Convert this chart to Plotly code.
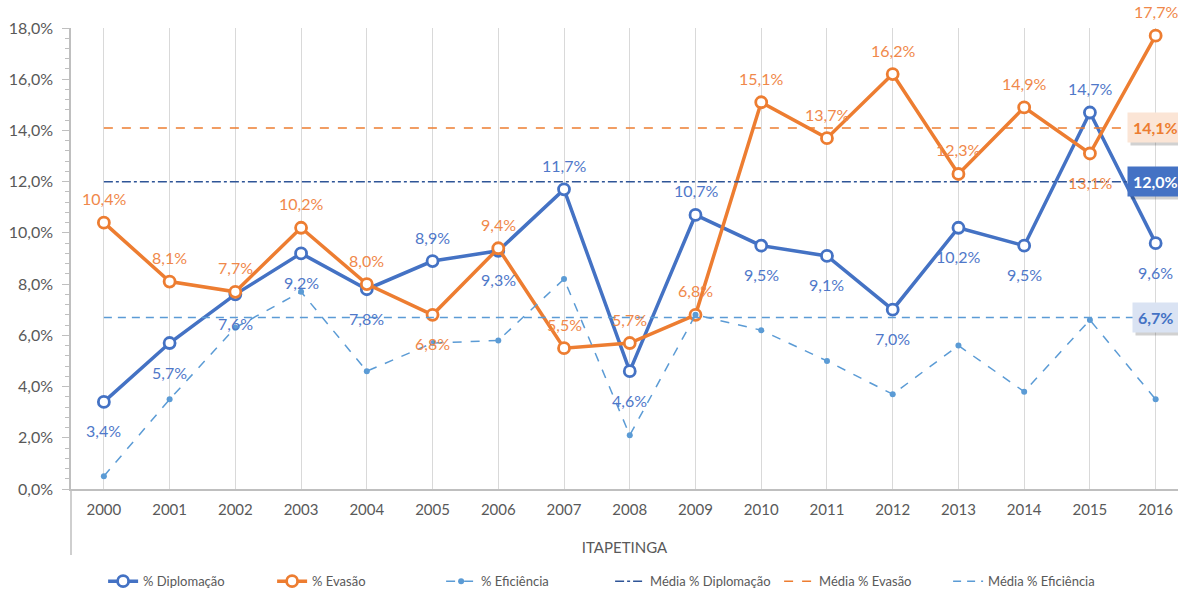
import plotly.graph_objects as go

anos = [str(a) for a in range(2000, 2017)]
diplomacao = [3.4, 5.7, 7.6, 9.2, 7.8, 8.9, 9.3, 11.7, 4.6, 10.7, 9.5, 9.1, 7.0, 10.2, 9.5, 14.7, 9.6]
evasao = [10.4, 8.1, 7.7, 10.2, 8.0, 6.8, 9.4, 5.5, 5.7, 6.8, 15.1, 13.7, 16.2, 12.3, 14.9, 13.1, 17.7]
eficiencia = [0.5, 3.5, 6.3, 7.7, 4.6, 5.7, 5.8, 8.2, 2.1, 6.8, 6.2, 5.0, 3.7, 5.6, 3.8, 6.6, 3.5]
media_diplomacao = 12.0
media_evasao = 14.1
media_eficiencia = 6.7
y_ticks = [0, 2, 4, 6, 8, 10, 12, 14, 16, 18]

# label placement (style): +1 above, -1 below
pos_dipl = [-1, -1, -1, -1, -1, 1, -1, 1, -1, 1, -1, -1, -1, -1, -1, 1, -1]
pos_evas = [1, 1, 1, 1, 1, -1, 1, 1, 1, 1, 1, 1, 1, 1, 1, -1, 1]

C_DIP = "#4472C4"
C_EVA = "#ED7D31"
C_EFI = "#5B9BD5"
C_MDIP = "#2F5597"
FONT = "Lato"
GRAY = "#595959"

def fmt(v):
    return f"{v:.1f}%".replace(".", ",")

fig = go.Figure()

fig.add_trace(go.Scatter(x=anos, y=diplomacao, name="% Diplomação", mode="lines+markers",
                         line=dict(color=C_DIP, width=3.5),
                         marker=dict(symbol="circle", size=11, color="white", line=dict(color=C_DIP, width=2.8))))
fig.add_trace(go.Scatter(x=anos, y=evasao, name="% Evasão", mode="lines+markers",
                         line=dict(color=C_EVA, width=3.5),
                         marker=dict(symbol="circle", size=11, color="white", line=dict(color=C_EVA, width=2.8))))
fig.add_trace(go.Scatter(x=anos, y=eficiencia, name="% Eficiência", mode="lines+markers",
                         line=dict(color=C_EFI, width=1.5, dash="dash"),
                         marker=dict(symbol="circle", size=6, color=C_EFI)))
fig.add_trace(go.Scatter(x=anos, y=[media_diplomacao] * len(anos), name="Média % Diplomação", mode="lines",
                         line=dict(color=C_MDIP, width=1.5, dash="dashdot")))
fig.add_trace(go.Scatter(x=anos, y=[media_evasao] * len(anos), name="Média % Evasão", mode="lines",
                         line=dict(color=C_EVA, width=1.5, dash="dash")))
fig.add_trace(go.Scatter(x=anos, y=[media_eficiencia] * len(anos), name="Média % Eficiência", mode="lines",
                         line=dict(color=C_EFI, width=1.5, dash="8px,6px")))

ann = []
for i, v in enumerate(diplomacao):
    ann.append(dict(x=i, y=v, text=fmt(v), showarrow=False, yshift=24 if pos_dipl[i] > 0 else -29,
                    font=dict(family=FONT, size=16, color="#4F78C9")))
for i, v in enumerate(evasao):
    ann.append(dict(x=i, y=v, text=fmt(v), showarrow=False, yshift=24 if pos_evas[i] > 0 else -29,
                    font=dict(family=FONT, size=16, color="#F0884A")))

boxes = [(media_evasao, "#FBE5D6", C_EVA), (media_diplomacao, C_DIP, "white"), (media_eficiencia, "#DAE3F3", C_DIP)]
for v, bg, fc in boxes:
    ann.append(dict(x=len(anos) - 1, y=v, text="<b>" + fmt(v) + "</b>", showarrow=False, xshift=3, yshift=-3,
                    bgcolor="rgba(0,0,0,0.18)", borderpad=5,
                    font=dict(family=FONT, size=16, color="rgba(0,0,0,0)")))
    ann.append(dict(x=len(anos) - 1, y=v, text="<b>" + fmt(v) + "</b>", showarrow=False,
                    bgcolor=bg, borderpad=5,
                    font=dict(family=FONT, size=16, color=fc)))

fig.update_layout(
    width=1178, height=592,
    margin=dict(l=71, r=0, t=28, b=103, autoexpand=False),
    paper_bgcolor="white", plot_bgcolor="white",
    font=dict(family=FONT, color=GRAY),
    separators=",.",
    showlegend=True,
    legend=dict(orientation="h", x=0.029, xanchor="left", y=-0.2, yanchor="middle",
                font=dict(family=FONT, size=13, color=GRAY), entrywidth=124, entrywidthmode="pixels"),
    annotations=ann,
    shapes=[dict(type="line", xref="paper", yref="paper", x0=0, x1=0, y0=0, y1=-0.143,
                 line=dict(color="#BFBFBF", width=1.5))],
)

fig.update_xaxes(type="category", range=[-0.5, 16.34], showgrid=True, gridcolor="#D9D9D9", gridwidth=1,
                 showline=True, linecolor="#BFBFBF", linewidth=1.5, ticks="", automargin=False,
                 ticklabelstandoff=6,
                 tickfont=dict(family=FONT, size=15, color=GRAY),
                 title=dict(text="ITAPETINGA", font=dict(family=FONT, size=15, color=GRAY), standoff=26))
fig.update_yaxes(range=[0, 18], tickvals=y_ticks, ticktext=[fmt(t) for t in y_ticks], showgrid=False,
                 zeroline=False, showline=True, linecolor="#BFBFBF", linewidth=1.5, automargin=False,
                 ticks="outside", ticklen=7, tickcolor="#BFBFBF", ticklabelstandoff=6,
                 minor=dict(ticks="outside", dtick=0.4, ticklen=4, tickcolor="#BFBFBF", showgrid=False),
                 tickfont=dict(family=FONT, size=16, color=GRAY))

fig.write_html("out.html", config={"displayModeBar": False},
               post_script="document.body.style.margin='0';document.body.style.overflow='hidden';")
